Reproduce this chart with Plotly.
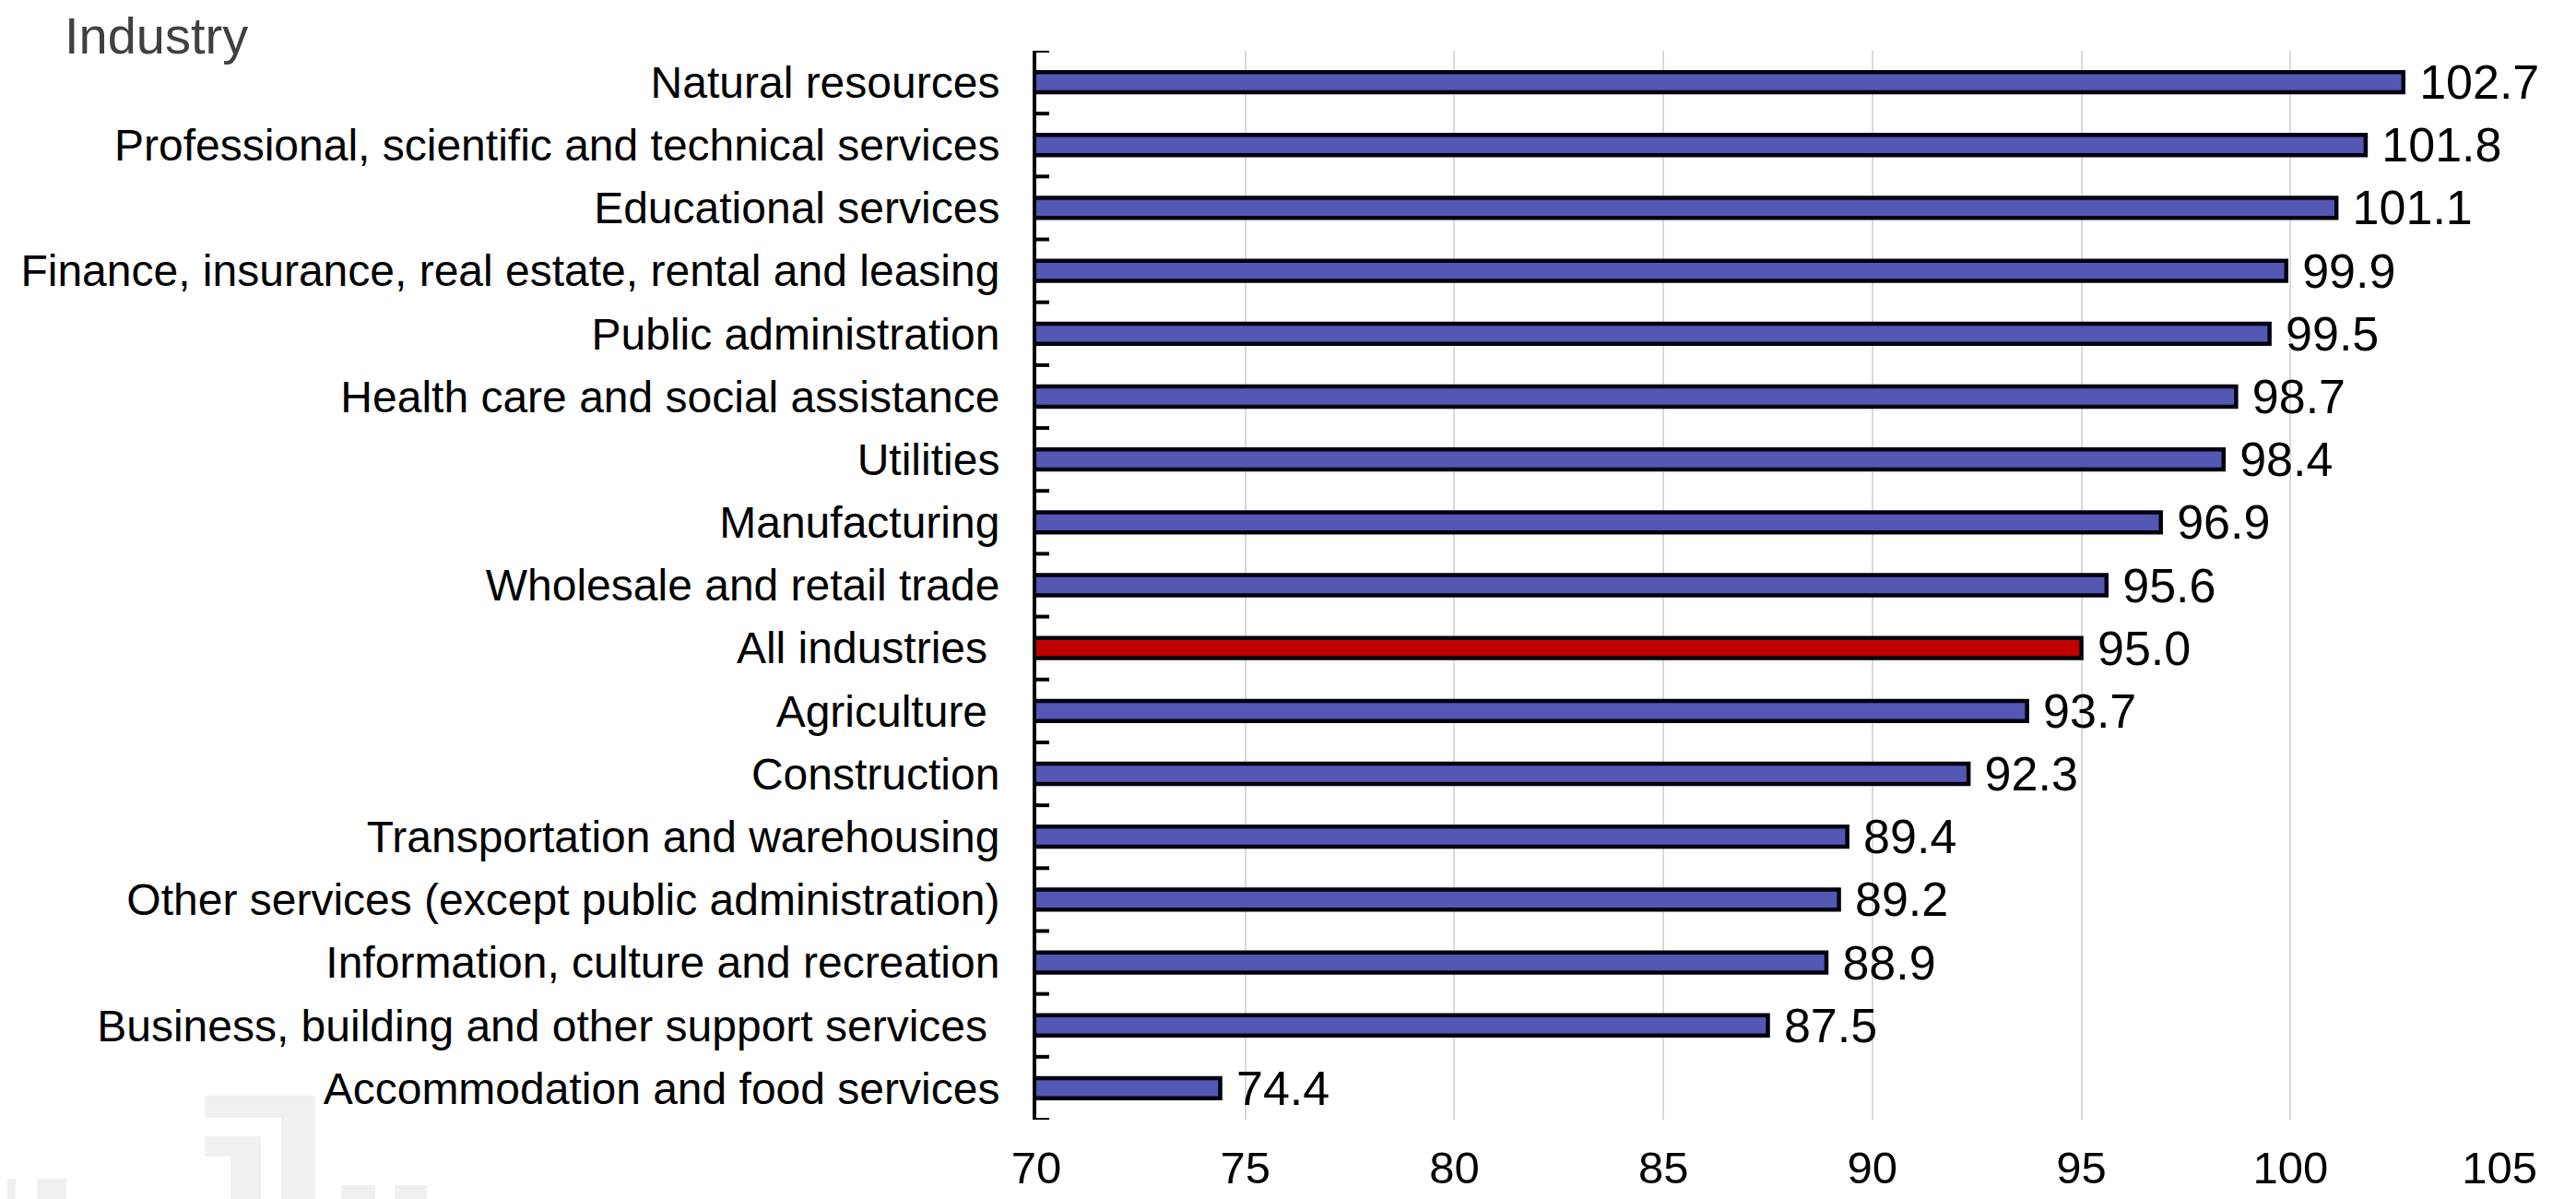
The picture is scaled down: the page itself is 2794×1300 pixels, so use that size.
import plotly.graph_objects as go

categories = [
    "Natural resources",
    "Professional, scientific and technical services",
    "Educational services",
    "Finance, insurance, real estate, rental and leasing",
    "Public administration",
    "Health care and social assistance",
    "Utilities",
    "Manufacturing",
    "Wholesale and retail trade",
    "All industries ",
    "Agriculture ",
    "Construction",
    "Transportation and warehousing",
    "Other services (except public administration)",
    "Information, culture and recreation",
    "Business, building and other support services ",
    "Accommodation and food services",
]
values = [102.7, 101.8, 101.1, 99.9, 99.5, 98.7, 98.4, 96.9, 95.6, 95.0,
          93.7, 92.3, 89.4, 89.2, 88.9, 87.5, 74.4]
highlight = "All industries "
x_ticks = [70, 75, 80, 85, 90, 95, 100, 105]

BLUE = "#5457B4"
RED = "#C00000"
colors = [RED if c == highlight else BLUE for c in categories]

FONT = "Liberation Sans, Arial, sans-serif"
OFF = 8  # page body margin
W, H = 2794 - OFF, 1300 - OFF
ML, MR, MT, MB = 1116, 83, 55 - OFF, 1300 - 1214
n = len(categories)

fig = go.Figure(go.Bar(
    y=categories,
    x=values,
    orientation="h",
    marker=dict(color=colors, line=dict(color="#00000f", width=4.5)),
    width=0.32,
    texttemplate="\u00a0%{x:.1f}",
    textposition="outside",
    constraintext="none",
    textfont=dict(family=FONT, size=52, color="#000000"),
    cliponaxis=False,
    hoverinfo="skip",
))

shapes = []
# crossing ticks at category boundaries
for i in range(n + 1):
    shapes.append(dict(
        type="line", xref="x", yref="y",
        xsizemode="pixel", xanchor=x_ticks[0], x0=-14, x1=14,
        y0=i - 0.5, y1=i - 0.5,
        line=dict(color="#000000", width=4), layer="above",
    ))

# faint watermark logo at bottom-left (page pixel coordinates)
def wm(px0, py0, px1, py1):
    bottom = H - MB
    return dict(
        type="rect", xref="paper", yref="paper",
        xsizemode="pixel", ysizemode="pixel", xanchor=0, yanchor=0,
        x0=px0 - OFF - ML, x1=px1 - OFF - ML,
        y0=bottom - (py0 - OFF), y1=bottom - (py1 - OFF),
        fillcolor="#f0f0f0", line=dict(width=0), layer="below",
    )

shapes += [
    wm(0, 1278, 17, 1300),
    wm(40, 1278, 72, 1300),
    wm(222, 1188, 342, 1212),
    wm(305, 1188, 342, 1300),
    wm(222, 1232, 283, 1254),
    wm(250, 1232, 283, 1300),
    wm(370, 1285, 407, 1300),
    wm(428, 1285, 463, 1300),
]

fig.update_layout(
    width=W, height=H,
    margin=dict(l=ML, r=MR, t=MT, b=MB, pad=0),
    paper_bgcolor="white", plot_bgcolor="white",
    showlegend=False,
    font=dict(family=FONT, size=48, color="#000000"),
    shapes=shapes,
    xaxis=dict(
        range=[x_ticks[0], x_ticks[-1]], tickvals=x_ticks,
        ticktext=[str(v) for v in x_ticks],
        showgrid=True, gridcolor="#d9d9d9", gridwidth=2,
        zeroline=False, showline=False, ticks="",
        ticklabelstandoff=19, automargin=False,
        tickfont=dict(family=FONT, size=49, color="#000000"),
    ),
    yaxis=dict(
        type="category", categoryorder="array", categoryarray=categories,
        range=[n - 0.5, -0.5], autorange=False,
        showline=True, linecolor="#000000", linewidth=4,
        ticks="", showgrid=False, zeroline=False,
        ticklabelstandoff=26, automargin=False,
        tickfont=dict(family=FONT, size=48, color="#000000"),
    ),
    annotations=[dict(
        text="Industry", xref="paper", yref="paper", x=0, y=1,
        xanchor="left", yanchor="middle", xshift=-1055, yshift=17,
        showarrow=False, borderpad=0,
        font=dict(family=FONT, size=56, color="#404040"),
    )],
)

fig.write_html("out.html")
